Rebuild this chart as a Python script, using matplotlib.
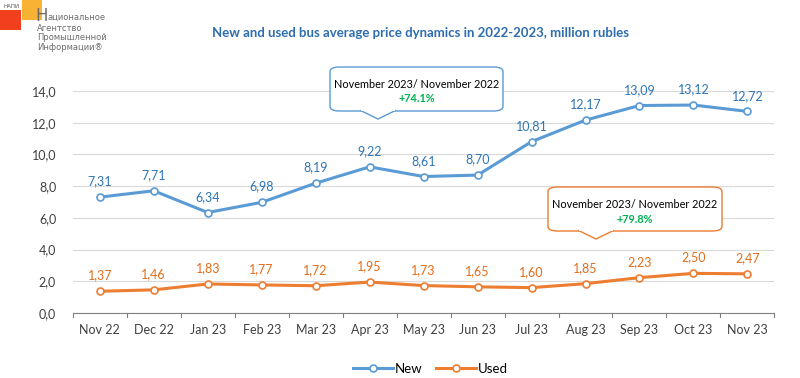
import numpy as np
import matplotlib.pyplot as plt
from matplotlib.patches import FancyBboxPatch, Polygon, Rectangle

months = ['Nov 22', 'Dec 22', 'Jan 23', 'Feb 23', 'Mar 23', 'Apr 23', 'May 23',
          'Jun 23', 'Jul 23', 'Aug 23', 'Sep 23', 'Oct 23', 'Nov 23']
new_price = [7.31, 7.71, 6.34, 6.98, 8.19, 9.22, 8.61, 8.70, 10.81, 12.17, 13.09, 13.12, 12.72]
used_price = [1.37, 1.46, 1.83, 1.77, 1.72, 1.95, 1.73, 1.65, 1.60, 1.85, 2.23, 2.50, 2.47]
yticks = [0, 2, 4, 6, 8, 10, 12, 14]

plt.rcParams['font.family'] = ['Lato', 'DejaVu Sans']

c_new = '#5B9BD5'
c_used = '#ED7D31'
c_new_lab = '#2E75B6'
c_used_lab = '#E36C1A'

fig = plt.figure(figsize=(8, 3.78), dpi=100)
ax = fig.add_axes([0.091, 0.172, 0.877, 0.587])

x = np.arange(len(months))
ax.plot(x, new_price, color=c_new, lw=2.2, marker='o', ms=5,
        mfc='white', mec=c_new, mew=1.2, label='New', zorder=3)
ax.plot(x, used_price, color=c_used, lw=2.2, marker='o', ms=5,
        mfc='white', mec=c_used, mew=1.2, label='Used', zorder=3)

def fmt(v):
    return f'{v:.2f}'.replace('.', ',')

for i, v in enumerate(new_price):
    ax.annotate(fmt(v), (i, v), textcoords='offset points', xytext=(0, 7),
                ha='center', va='bottom', fontsize=9, color=c_new_lab)
for i, v in enumerate(used_price):
    ax.annotate(fmt(v), (i, v), textcoords='offset points', xytext=(0, 7),
                ha='center', va='bottom', fontsize=9, color=c_used_lab)

ax.set_xlim(-0.5, len(months) - 0.5)
ax.set_ylim(0, 14)
ax.set_yticks(yticks)
ax.set_yticklabels([f'{t:.1f}'.replace('.', ',') for t in yticks], fontsize=9, color='#404040')
ax.set_xticks(x)
ax.set_xticklabels(months, fontsize=9, color='#404040')
ax.tick_params(axis='y', length=0, pad=12)
ax.tick_params(axis='x', length=0, pad=8)
ax.grid(axis='y', color='#D9D9D9', lw=0.8)
ax.set_axisbelow(True)
for s in ['top', 'right', 'left']:
    ax.spines[s].set_visible(False)
ax.spines['bottom'].set_color('#808080')
# small category ticks at the bottom
for xb in np.arange(-0.5, len(months), 1.0):
    ax.plot([xb, xb], [0, -0.25], color='#808080', lw=0.8, clip_on=False)

fig.text(0.525, 0.912, 'New and used bus average price dynamics in 2022-2023, million rubles',
         ha='center', va='center', fontsize=9.5, fontweight='bold', color='#2E6DAE')

ax.legend(loc='upper center', bbox_to_anchor=(0.51, -0.17), ncol=2, frameon=False,
          fontsize=9.5, handlelength=3, columnspacing=1.0, handletextpad=0.2)

# callouts
def callout(x0, y0, w, h, tipx, edge, pct):
    # coordinates in pixels (top-left origin)
    W, H = 800, 378
    box = FancyBboxPatch((x0 / W, 1 - (y0 + h) / H), w / W, h / H,
                         boxstyle='round,pad=0,rounding_size=0.012',
                         transform=fig.transFigure, fc='white', ec=edge, lw=1.0, zorder=5)
    fig.add_artist(box)
    yb = 1 - (y0 + h) / H
    tri = Polygon([((tipx - 18) / W, yb + 0.002), (tipx / W, yb - 8 / H),
                   ((tipx + 18) / W, yb + 0.002)], closed=False,
                  transform=fig.transFigure, fc='white', ec=edge, lw=1.0, zorder=6)
    fig.add_artist(tri)
    fig.add_artist(Rectangle(((tipx - 17) / W, yb - 0.001), 34 / W, 0.004,
                             transform=fig.transFigure, fc='white', ec='none', zorder=7))
    cx = (x0 + w / 2) / W
    fig.text(cx, 1 - (y0 + 17) / H, 'November 2023/ November 2022', ha='center', va='center',
             fontsize=7.8, color='black', zorder=8)
    fig.text(cx, 1 - (y0 + 32) / H, pct, ha='center', va='center',
             fontsize=7.8, color='#00B050', fontweight='bold', zorder=8)

callout(330, 67, 173, 44, 378, c_new, '+74.1%')
callout(548, 187, 174, 44, 596, c_used, '+79.8%')

# logo
fig.add_artist(Rectangle((0, 1 - 30 / 378), 21 / 800, 20 / 378, transform=fig.transFigure,
                         fc='#F2401E', ec='none'))
fig.add_artist(Rectangle((22 / 800, 1 - 20 / 378), 20 / 800, 20 / 378, transform=fig.transFigure,
                         fc='#F9B234', ec='none'))
logo_font = ['Liberation Sans Narrow', 'DejaVu Sans']
fig.text(4 / 800, 1 - 6 / 378, 'НАПИ', fontsize=4, color='#555555', va='center', family=logo_font)
fig.text(35.5 / 800, 1 - 21 / 378, 'Н', fontsize=12, color='#6D6D6D', va='baseline', family=logo_font)
fig.text(47 / 800, 1 - 20 / 378, 'ациональное', fontsize=6, color='#6D6D6D', va='baseline',
         family=logo_font)
fig.text(37 / 800, 1 - 28.5 / 378, 'Агентство', fontsize=6, color='#6D6D6D', va='center', family=logo_font)
fig.text(37 / 800, 1 - 38 / 378, 'Промышленной', fontsize=6, color='#6D6D6D', va='center', family=logo_font)
fig.text(37 / 800, 1 - 47.5 / 378, 'Информации®', fontsize=6, color='#6D6D6D', va='center', family=logo_font)

fig.savefig('out.png', dpi=100)
